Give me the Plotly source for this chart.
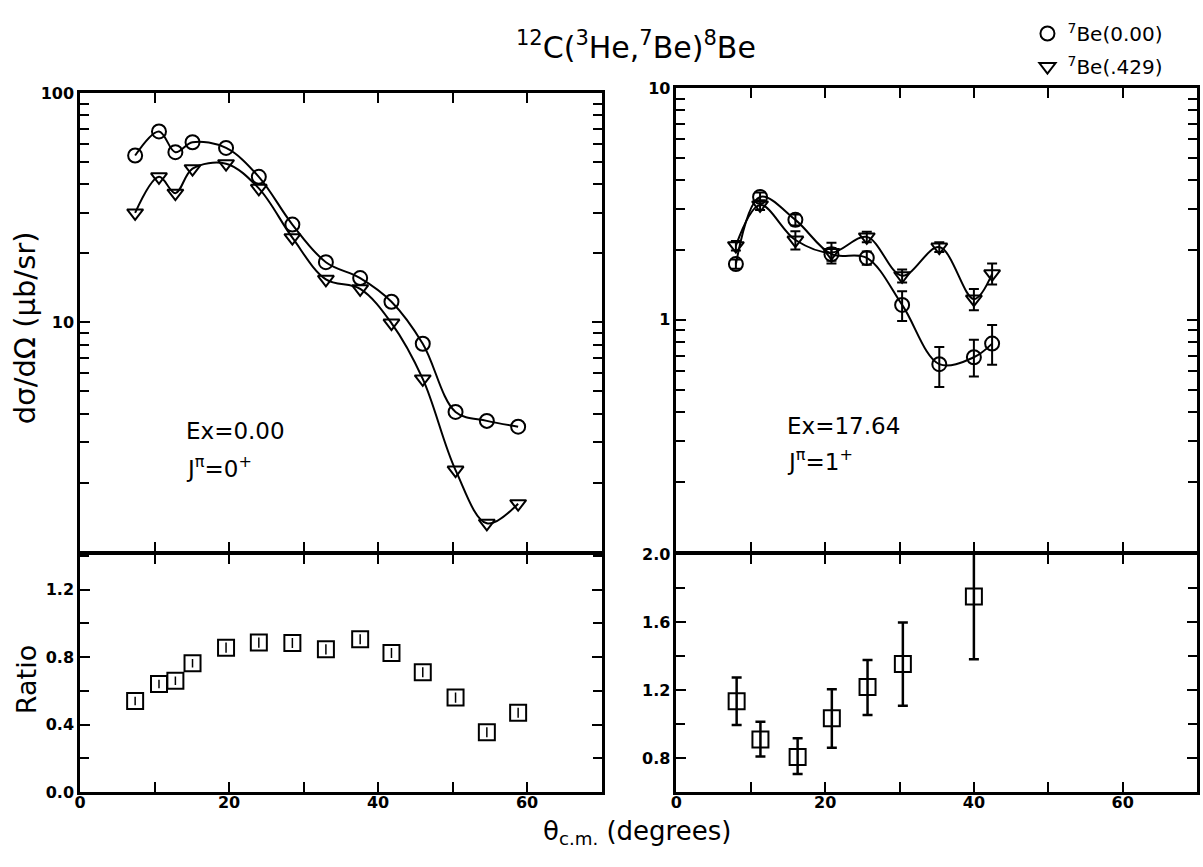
import plotly.graph_objects as go

# ---------------- data ----------------
# Ex = 0.00 (left panels)
theta_l = [7.4, 10.6, 12.8, 15.1, 19.6, 24.0, 28.5, 33.0, 37.6, 41.8, 46.0, 50.4, 54.6, 58.8]
sig_gs_l = [53.4, 68.0, 55.2, 61.0, 57.6, 43.1, 26.7, 18.3, 15.6, 12.3, 8.07, 4.07, 3.72, 3.51]
sig_ex_l = [30.0, 43.1, 36.6, 46.8, 49.2, 38.4, 23.4, 15.4, 14.0, 9.93, 5.67, 2.27, 1.33, 1.62]
ratio_l = [0.54, 0.64, 0.66, 0.764, 0.856, 0.886, 0.884, 0.846, 0.906, 0.824, 0.71, 0.56, 0.354, 0.47]
ratio_l_err = [0.025, 0.025, 0.025, 0.025, 0.03, 0.03, 0.03, 0.03, 0.03, 0.03, 0.03, 0.03, 0.03, 0.03]

# Ex = 17.64 (right panels)
theta_r = [8.0, 11.25, 16.0, 20.85, 25.6, 30.35, 35.35, 40.0, 42.45]
sig_gs_r = [1.74, 3.39, 2.70, 1.92, 1.85, 1.16, 0.644, 0.69, 0.79]
sig_gs_r_up = [0.08, 0.15, 0.15, 0.12, 0.12, 0.17, 0.12, 0.13, 0.16]
sig_gs_r_dn = [0.08, 0.15, 0.15, 0.12, 0.12, 0.17, 0.13, 0.12, 0.15]
sig_ex_r = [2.09, 3.13, 2.21, 1.95, 2.28, 1.55, 2.06, 1.23, 1.58]
sig_ex_r_up = [0.1, 0.15, 0.2, 0.2, 0.12, 0.1, 0.1, 0.13, 0.17]
sig_ex_r_dn = [0.1, 0.15, 0.2, 0.2, 0.12, 0.1, 0.1, 0.13, 0.16]
theta_rr = [8.1, 11.3, 16.3, 20.9, 25.7, 30.45, 40.0]
ratio_r = [1.134, 0.909, 0.806, 1.035, 1.218, 1.353, 1.751]
ratio_r_up = [0.14, 0.105, 0.11, 0.17, 0.16, 0.245, 0.37]
ratio_r_dn = [0.14, 0.10, 0.10, 0.175, 0.165, 0.245, 0.37]

x_tickvals = [0, 20, 40, 60]
ratio_l_tickvals = [0.0, 0.4, 0.8, 1.2]
ratio_r_tickvals = [0.8, 1.2, 1.6, 2.0]
log_l_major = [10, 100]
log_r_major = [1, 10]
log_l_minor = [m * d for d in (1, 10) for m in range(2, 10)]
log_r_minor = [m * d for d in (0.1, 1) for m in range(2, 10)]

FONT = "DejaVu Sans"
BLACK = "black"

fig = go.Figure()

mk = dict(color=BLACK, size=14, line=dict(color=BLACK, width=2))

# top-left
fig.add_trace(go.Scatter(x=theta_l, y=sig_gs_l, xaxis="x", yaxis="y", mode="lines+markers",
                         line=dict(color=BLACK, width=2, shape="spline", smoothing=1.0),
                         marker=dict(symbol="circle-open", **mk), showlegend=False))
fig.add_trace(go.Scatter(x=theta_l, y=sig_ex_l, xaxis="x", yaxis="y", mode="lines+markers",
                         line=dict(color=BLACK, width=2, shape="spline", smoothing=1.0),
                         marker=dict(symbol="triangle-down-open", **mk), showlegend=False))
# bottom-left
fig.add_trace(go.Scatter(x=theta_l, y=ratio_l, xaxis="x2", yaxis="y2", mode="markers",
                         marker=dict(symbol="square-open", color=BLACK, size=16, line=dict(color=BLACK, width=2)),
                         error_y=dict(type="data", array=ratio_l_err, color=BLACK, thickness=1.5, width=0),
                         showlegend=False))
# top-right
fig.add_trace(go.Scatter(x=theta_r, y=sig_gs_r, xaxis="x3", yaxis="y3", mode="lines+markers",
                         line=dict(color=BLACK, width=2, shape="spline", smoothing=1.0),
                         marker=dict(symbol="circle-open", **mk),
                         error_y=dict(type="data", array=sig_gs_r_up, arrayminus=sig_gs_r_dn,
                                      color=BLACK, thickness=2, width=5),
                         showlegend=False))
fig.add_trace(go.Scatter(x=theta_r, y=sig_ex_r, xaxis="x3", yaxis="y3", mode="lines+markers",
                         line=dict(color=BLACK, width=2, shape="spline", smoothing=1.0),
                         marker=dict(symbol="triangle-down-open", **mk),
                         error_y=dict(type="data", array=sig_ex_r_up, arrayminus=sig_ex_r_dn,
                                      color=BLACK, thickness=2, width=5),
                         showlegend=False))
# bottom-right
fig.add_trace(go.Scatter(x=theta_rr, y=ratio_r, xaxis="x4", yaxis="y4", mode="markers",
                         marker=dict(symbol="square-open", color=BLACK, size=16, line=dict(color=BLACK, width=2)),
                         error_y=dict(type="data", array=ratio_r_up, arrayminus=ratio_r_dn,
                                      color=BLACK, thickness=2.5, width=5),
                         showlegend=False))
# legend entries
fig.add_trace(go.Scatter(x=[None], y=[None], xaxis="x3", yaxis="y3", mode="markers",
                         marker=dict(symbol="circle-open", **mk), name="<sup>7</sup>Be(0.00)",
                         legendgroup="a"))
fig.add_trace(go.Scatter(x=[None], y=[None], xaxis="x3", yaxis="y3", mode="markers",
                         marker=dict(symbol="triangle-down-open", **mk), name="<sup>7</sup>Be(.429)",
                         legendgroup="b"))

W, H = 1203, 867
L, R, T, B = 80, 3, 88, 75
pw, ph = W - L - R, H - T - B


def px_x(p):
    return (p - L) / pw


def px_y(p):
    return (H - B - p) / ph


LW = 2.5
top_lo = px_y(553 - LW / 2)
bot_hi = px_y(553 + LW / 2)

axis_common = dict(showline=True, linewidth=LW, linecolor=BLACK, mirror="ticks", ticks="inside",
                   ticklen=10, tickwidth=2, tickcolor=BLACK, showgrid=False, zeroline=False,
                   tickfont=dict(family=FONT, size=16, color=BLACK, weight="bold"))
minor_lin_x = dict(dtick=10, tick0=0, ticks="inside", ticklen=10, tickwidth=2, tickcolor=BLACK, showgrid=False)
minor_ratio = dict(dtick=0.2, tick0=0, ticks="inside", ticklen=9, tickwidth=2, tickcolor=BLACK, showgrid=False)

xl_dom = [0, px_x(603)]
xr_dom = [px_x(678), px_x(1200)]

fig.update_layout(
    width=W, height=H,
    margin=dict(l=L, r=R, t=T, b=B),
    paper_bgcolor="white", plot_bgcolor="white",
    font=dict(family=FONT, color=BLACK),
    xaxis=dict(domain=xl_dom, anchor="y", range=[0, 70], tickvals=x_tickvals, showticklabels=False,
               minor=minor_lin_x, matches="x2", **axis_common),
    yaxis=dict(domain=[top_lo, px_y(93)], anchor="x", type="log", range=[0, 2],
               tickvals=log_l_major, ticktext=["10", "100"],
               minor=dict(tickvals=log_l_minor, ticks="inside", ticklen=9, tickwidth=2, tickcolor=BLACK),
               **axis_common),
    xaxis2=dict(domain=xl_dom, anchor="y2", range=[0, 70], tickvals=x_tickvals,
                minor=minor_lin_x, ticklabelstandoff=-6, **axis_common),
    yaxis2=dict(domain=[0, bot_hi], anchor="x2", range=[0, 1.41], tickvals=ratio_l_tickvals,
                tickformat=".1f", minor=minor_ratio, **axis_common),
    xaxis3=dict(domain=xr_dom, anchor="y3", range=[0, 70], tickvals=x_tickvals, showticklabels=False,
                minor=minor_lin_x, matches="x4", **axis_common),
    yaxis3=dict(domain=[top_lo, px_y(88)], anchor="x3", type="log", range=[-1, 1],
                tickvals=log_r_major, ticktext=["1", "10"],
                minor=dict(tickvals=log_r_minor, ticks="inside", ticklen=9, tickwidth=2, tickcolor=BLACK),
                **axis_common),
    xaxis4=dict(domain=xr_dom, anchor="y4", range=[0, 70], tickvals=x_tickvals,
                minor=minor_lin_x, ticklabelstandoff=-6, **axis_common),
    yaxis4=dict(domain=[0, bot_hi], anchor="x4", range=[0.6, 2.0], tickvals=ratio_r_tickvals,
                tickformat=".1f", minor=minor_ratio, **axis_common),
    legend=dict(x=px_x(1030), y=px_y(14), xanchor="left", yanchor="top", bgcolor="rgba(0,0,0,0)",
                font=dict(family=FONT, size=20, color=BLACK), tracegroupgap=4, itemwidth=30),
    showlegend=True,
)

ann_font = dict(family=FONT, size=23, color=BLACK)
fig.add_annotation(text="<sup>12</sup>C(<sup>3</sup>He,<sup>7</sup>Be)<sup>8</sup>Be", xref="paper", yref="paper",
                   x=px_x(637), y=px_y(45), showarrow=False, font=dict(family=FONT, size=30, color=BLACK),
                   xanchor="center", yanchor="middle")
fig.add_annotation(text="dσ/dΩ (μb/sr)", xref="paper", yref="paper", x=px_x(25), y=px_y(328),
                   textangle=-90, showarrow=False, font=dict(family=FONT, size=29, color=BLACK),
                   xanchor="center", yanchor="middle")
fig.add_annotation(text="Ratio", xref="paper", yref="paper", x=px_x(26), y=px_y(680),
                   textangle=-90, showarrow=False, font=dict(family=FONT, size=27, color=BLACK),
                   xanchor="center", yanchor="middle")
fig.add_annotation(text="θ<sub>c.m.</sub> (degrees)", xref="paper", yref="paper", x=px_x(638), y=px_y(832),
                   showarrow=False, font=dict(family=FONT, size=26, color=BLACK),
                   xanchor="center", yanchor="middle")
fig.add_annotation(text="Ex=0.00", xref="x", yref="y", x=14, y=0.526, showarrow=False, font=ann_font,
                   xanchor="left", yanchor="middle")
fig.add_annotation(text="J<sup>π</sup>=0<sup>+</sup>", xref="x", yref="y", x=14, y=0.37, showarrow=False,
                   font=ann_font, xanchor="left", yanchor="middle")
fig.add_annotation(text="Ex=17.64", xref="x3", yref="y3", x=14.6, y=-0.458, showarrow=False, font=ann_font,
                   xanchor="left", yanchor="middle")
fig.add_annotation(text="J<sup>π</sup>=1<sup>+</sup>", xref="x3", yref="y3", x=14.6, y=-0.603, showarrow=False,
                   font=ann_font, xanchor="left", yanchor="middle")

fig.write_html("out.html", config={"displayModeBar": False},
               post_script="document.body.style.margin='0px';")
